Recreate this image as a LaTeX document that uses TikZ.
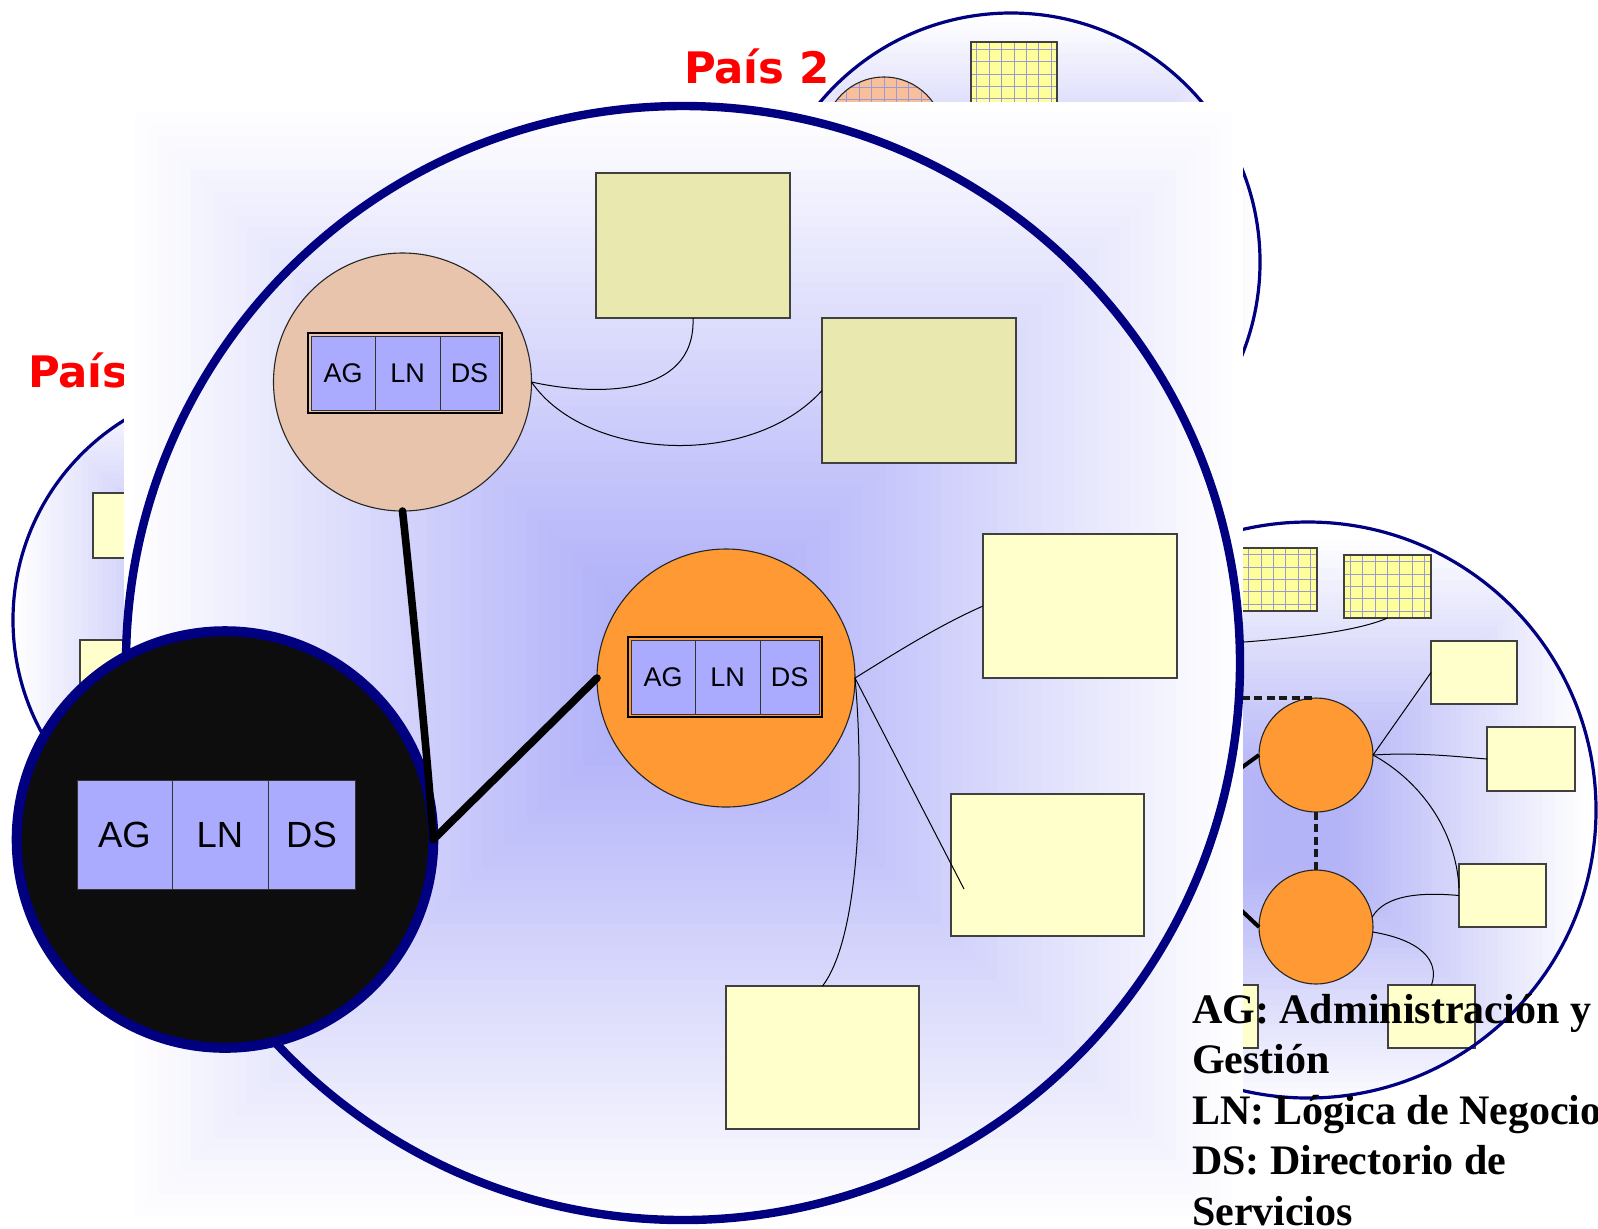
\documentclass[tikz,border=0pt]{standalone}
\usepackage{fontspec}
\setmainfont{Liberation Serif}
\setsansfont{Liberation Sans}
\newfontfamily\paisfont{DejaVu Sans}
\usetikzlibrary{calc}
\definecolor{navy}{HTML}{000080}
\definecolor{paneltint}{HTML}{B3B3F9}
\definecolor{disctint}{HTML}{B3B3F7}
\definecolor{peach}{HTML}{E8C4AC}
\definecolor{orangefill}{HTML}{FF9933}
\definecolor{cellblue}{HTML}{AAAAFF}
\definecolor{khaki}{HTML}{E9E9AF}
\definecolor{paleyellow}{HTML}{FFFFCC}
\definecolor{boxborder}{HTML}{404040}
\definecolor{gridline}{HTML}{9A9AD6}
\definecolor{gridyellow}{HTML}{FFFF99}
\definecolor{gridsalmon}{HTML}{F9BF9B}
\definecolor{nearblack}{HTML}{0D0D0D}

\newcommand\pxrect[7]{\node[#1, minimum width={#5*0.5pt-#3*0.5pt}, minimum height={#6*0.5pt-#4*0.5pt}] (#2) at ({(#3+#5)/2},{(#4+#6)/2}) {#7};}
\newcommand\sqgrad[5]{%
  \foreach \gk in {0,...,50}{%
    \pgfmathsetmacro{\gradf}{1-\gk/50}%
    \pgfmathtruncatemacro{\gradp}{min(100,max(0,(1-\gradf)/0.84*100))}%
    \fill[#5!\gradp!white] ({#1-#3*\gradf},{#2-#4*\gradf}) rectangle ({#1+#3*\gradf},{#2+#4*\gradf});%
  }%
}

\tikzset{
  every node/.style={inner sep=0pt, outer sep=0pt},
  yrect/.style={rectangle, draw=boxborder, line width=0.6pt, fill=paleyellow},
  krect/.style={yrect, fill=khaki},
  gridded/.style={path picture={\draw[gridline, line width=0.45pt, step=6.2pt] (path picture bounding box.south west) grid (path picture bounding box.north east);}},
  cell/.style={rectangle, fill=cellblue, draw=black!80, line width=0.5pt, font=\sffamily\fontsize{13.5}{16}\selectfont},
  bigcell/.style={cell, font=\sffamily\fontsize{18.2}{22}\selectfont},
  boxframe/.style={rectangle, draw=black, line width=1.1pt},
  svc/.style={circle, draw=black!85, line width=0.55pt},
  conn/.style={draw=black, line width=0.5pt},
  heavy/.style={draw=black, line width=3.8pt, line cap=round},
  dotlink/.style={draw=black!90, line width=1.8pt, dash pattern=on 4pt off 2.2pt},
  brheavy/.style={draw=black, line width=2pt},
  pais/.style={text=red, font=\paisfont\bfseries\fontsize{21.7}{26}\selectfont, anchor=base west},
  legend/.style={font=\bfseries\fontsize{21}{25}\selectfont, anchor=base west},
  ringbig/.style={circle, draw=navy, line width=4.2pt},
  ringsmall/.style={draw=navy, line width=1.6pt},
}

\begin{document}
\begin{tikzpicture}[x=0.5pt,y=-0.5pt]
\useasboundingbox (0,0) rectangle (1598,1228);
\fill[white] (0,0) rectangle (1598,1228);

% ---- top-right background circle
\begin{scope}
  \clip (1011,262) circle[radius=124.5pt];
  \sqgrad{1011}{262}{249}{249}{disctint}
  \node[svc, fill=gridsalmon, gridded, minimum size=60pt] (trc) at (884,137) {};
  \pxrect{yrect, fill=gridyellow, gridded}{trr}{971}{42}{1057}{106}{}
\end{scope}
\draw[ringsmall] (1011,262) circle[radius=124.5pt];

% ---- left background circle
\begin{scope}
  \clip (248,620) circle[radius=117.5pt];
  \sqgrad{248}{620}{235}{235}{disctint}
  \pxrect{yrect}{lr1}{93}{493}{180}{558}{}
  \pxrect{yrect}{lr2}{80}{640}{167}{705}{}
\end{scope}
\draw[ringsmall] (248,620) circle[radius=117.5pt];

% ---- bottom-right background circle
\begin{scope}
  \clip (1308,810) circle[radius=144pt];
  \sqgrad{1298}{825}{292}{292}{disctint}
\end{scope}
\pxrect{yrect, fill=gridyellow, gridded}{gr1}{1230}{548}{1317}{611}{}
\pxrect{yrect, fill=gridyellow, gridded}{gr2}{1344}{555}{1431}{618}{}
\pxrect{yrect}{ra}{1431}{641}{1517}{704}{}
\pxrect{yrect}{rb}{1487}{727}{1575}{791}{}
\pxrect{yrect}{rc}{1459}{864}{1546}{927}{}
\pxrect{yrect}{rd}{1388}{985}{1475}{1048}{}
\pxrect{yrect}{re}{1170}{985}{1258}{1048}{}
\node[svc, fill=orangefill, minimum size=57pt] (bc1) at (1316,755) {};
\node[svc, fill=orangefill, minimum size=57pt] (bc2) at (1316,927) {};
\coordinate (hidA) at (1180,698);
\coordinate (hidB) at (1190,805);
\coordinate (hidC) at (1190,862);
\coordinate (hidD) at (1180,646);
\draw[conn] (hidD) .. controls (1300,640) and (1360,630) .. (gr2.south);
\draw[dotlink] (hidA) -- (bc1.north);
\draw[dotlink] (bc1.south) -- (bc2.north);
\draw[brheavy] (hidB) -- (bc1.west);
\draw[brheavy] (hidC) -- (bc2.west);
\draw[conn] (bc1.east) -- (ra.west);
\draw[conn] (bc1.east) .. controls (1420,752) and (1460,757) .. (rb.west);
\draw[conn] (bc1.east) .. controls (1410,775) and (1455,820) .. (rc.170);
\draw[conn] (bc2.10) .. controls (1385,895) and (1420,892) .. (rc.west);
\draw[conn] (bc2.-5) .. controls (1420,940) and (1440,960) .. (rd.north);
\draw[ringsmall] (1308,810) circle[radius=144pt];

% ---- country labels
\node[pais] (pais1) at (28,387) {País};
\node[pais] (pais2) at (684,83) {País 2};

% ---- main panel
\sqgrad{683.5}{665}{559.5}{563}{paneltint}
\node[ringbig, minimum size=557pt] (ring) at (683,663) {};

% ---- rectangles
\pxrect{krect}{r1}{596}{173}{790}{318}{}
\pxrect{krect}{r2}{822}{318}{1016}{463}{}
\pxrect{yrect}{r3}{983}{534}{1177}{678}{}
\pxrect{yrect}{r4}{951}{794}{1144}{936}{}
\pxrect{yrect}{r5}{726}{986}{919}{1129}{}
\coordinate (r4tip) at (964,889);

% ---- peach node
\node[svc, fill=peach, minimum size=129pt] (beige) at (402.5,382) {};
\pxrect{cell}{bag}{311}{336}{375}{410}{AG}
\pxrect{cell}{bln}{375}{336}{440}{410}{LN}
\pxrect{cell}{bds}{440}{336}{499}{410}{DS}
\pxrect{boxframe}{bframe}{308}{333}{502}{413}{}

% ---- orange node
\node[svc, fill=orangefill, minimum size=129pt] (orng) at (726,678) {};
\pxrect{cell}{oag}{631}{640}{695}{714}{AG}
\pxrect{cell}{oln}{695}{640}{760}{714}{LN}
\pxrect{cell}{ods}{760}{640}{819}{714}{DS}
\pxrect{boxframe}{oframe}{628}{637}{822}{717}{}

% ---- thin connectors
\draw[conn] (beige.east) .. controls (590,395) and (696,400) .. (r1.south);
\draw[conn] (beige.east) .. controls (585,460) and (750,470) .. (r2.west);
\draw[conn] (orng.east) .. controls (900,650) and (940,625) .. (r3.west);
\draw[conn] (orng.east) -- (r4tip);
\draw[conn] (orng.east) .. controls (862,750) and (865,930) .. (r5.north);

% ---- black node
\node[circle, fill=nearblack, draw=navy, line width=5pt, minimum size=208.3pt] (blk) at (225,839.5) {};
\pxrect{bigcell}{kag}{77}{780}{172}{889}{AG}
\pxrect{bigcell}{kln}{172}{780}{268}{889}{LN}
\pxrect{bigcell}{kds}{268}{780}{355}{889}{DS}

% ---- thick links
\draw[heavy] (beige.south) .. controls (409,570) and (428,760) .. (blk.east);
\draw[heavy] (blk.east) -- (orng.west);

% ---- legend
\node[legend] (leg1) at (1192,1023) {AG: Administración y};
\node[legend] (leg2) at (1192,1073.5) {Gestión};
\node[legend] (leg3) at (1192,1124) {LN: Lógica de Negocio};
\node[legend] (leg4) at (1192,1174.5) {DS: Directorio de};
\node[legend] (leg5) at (1192,1225) {Servicios};
\end{tikzpicture}
\end{document}
